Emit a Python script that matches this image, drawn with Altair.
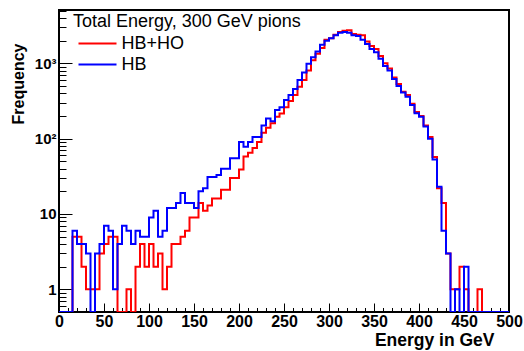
import altair as alt
import pandas as pd

# ---- data (bin lower edges in GeV, 5 GeV bins) ----
bin_lo = list(range(0, 500, 5))
hbho = [0, 0, 0, 5, 5, 2, 1, 1, 1, 3,
        4, 5, 5, 0, 0, 1, 0, 2, 4, 2,
        4, 2, 3, 1, 2, 4, 4, 5, 6, 9,
        9, 14, 11, 13, 16, 16, 21, 21, 30, 30,
        39, 58, 65, 75, 90, 120, 140, 160, 195, 215,
        262, 317, 380, 490, 600, 805, 1100, 1340, 1600, 2050,
        2150, 2400, 2600, 2700, 2750, 2450, 2400, 2350, 1950, 1700,
        1550, 1250, 1000, 850, 650, 530, 420, 380, 290, 225,
        200, 150, 105, 57, 22, 14, 3, 1, 1, 2,
        1, 0, 0, 1, 0, 0, 0, 0, 0, 0]
hb = [0, 0, 0, 6, 4, 4, 3, 0, 3, 4,
      7, 6, 1, 4, 7, 6, 4, 6, 5, 5,
      9, 11, 5, 6, 12, 12, 14, 19, 14, 14,
      12, 20, 22, 31, 31, 33, 40, 40, 55, 55,
      90, 78, 90, 105, 105, 150, 185, 170, 240, 262,
      325, 380, 455, 600, 755, 985, 1200, 1430, 1770, 2000,
      2150, 2350, 2550, 2600, 2550, 2350, 2300, 2050, 1800, 1550,
      1400, 1150, 920, 800, 620, 500, 410, 360, 280, 218,
      195, 145, 100, 53, 23, 6, 3, 0, 1, 0,
      2, 0, 0, 0, 0, 0, 0, 0, 0, 0]
series_names = ["HB+HO", "HB"]
series_colors = ["#ff0000", "#0000ff"]
x_major = list(range(0, 501, 50))
x_minor = [v for v in range(0, 501, 10) if v % 50 != 0]
y_major = [1, 10, 100, 1000]
y_minor = [0.6, 0.7, 0.8, 0.9, 2, 3, 4, 5, 6, 7, 8, 9,
           20, 30, 40, 50, 60, 70, 80, 90,
           200, 300, 400, 500, 600, 700, 800, 900,
           2000, 3000, 4000, 5000]

rows = []
for name, vals in zip(series_names, [hbho, hb]):
    for e, v in zip(bin_lo, vals):
        rows.append({"E": e, "count": v, "series": name})
    rows.append({"E": 500, "count": vals[-1], "series": name})
df = pd.DataFrame(rows)

FONT = "Liberation Sans"
xs = alt.Scale(domain=[0, 500], nice=False, zero=False)
ys = alt.Scale(type="log", domain=[0.5, 5100], nice=False)
cs = alt.Scale(domain=series_names, range=series_colors)

base = alt.Chart(df).transform_calculate(yv="max(datum.count, 0.5)")

x_lab_axis = alt.Axis(orient="bottom", values=x_major, ticks=False, tickSize=0, domain=False,
                      grid=False, labelFont=FONT, labelFontWeight="bold", labelFontSize=16,
                      labelColor="black", labelPadding=1, labelFlush=False,
                      title="Energy in GeV", titleFont=FONT, titleFontWeight="bold",
                      titleFontSize=17.5, titleColor="black", titleX=435, titleY=33,
                      titleAlign="right", titleBaseline="alphabetic")
y_lab_axis = alt.Axis(orient="left", values=y_major, ticks=False, tickSize=0, domain=False,
                      grid=False, labelFlush=False,
                      labelExpr="datum.value == 1000 ? '10³' : datum.value == 100 ? '10²' : datum.label",
                      labelFont=FONT, labelFontWeight="bold", labelFontSize=15,
                      labelColor="black", labelPadding=3,
                      title="Frequency", titleFont=FONT, titleFontWeight="bold",
                      titleFontSize=16, titleColor="black", titleAngle=270,
                      titleX=-36, titleY=33, titleAlign="right", titleBaseline="alphabetic")

legend = alt.Legend(orient="none", legendX=14, legendY=3,
                    title="Total Energy, 300 GeV pions", titleFont=FONT,
                    titleFontSize=18, titleFontWeight="normal", titleColor="black",
                    titleLimit=400, titlePadding=2, titleBaseline="top",
                    labelFont=FONT, labelFontSize=18, labelColor="black",
                    symbolType="M-2,0H2", symbolStrokeWidth=2, symbolSize=361,
                    symbolOffset=14, labelOffset=13.5, rowPadding=1, padding=0)

red = base.transform_filter(alt.datum.series == "HB+HO").mark_line(
    interpolate="step-after", strokeWidth=2, clip=True).encode(
    x=alt.X("E:Q", scale=xs, axis=x_lab_axis),
    y=alt.Y("yv:Q", scale=ys, axis=y_lab_axis),
    color=alt.Color("series:N", scale=cs, legend=legend))

blue = base.transform_filter(alt.datum.series == "HB").mark_line(
    interpolate="step-after", strokeWidth=2, clip=True).encode(
    x=alt.X("E:Q", scale=xs, axis=None),
    y=alt.Y("yv:Q", scale=ys, axis=None),
    color=alt.Color("series:N", scale=cs, legend=legend))

major = base.mark_line(opacity=0).encode(
    x=alt.X("E:Q", scale=xs, axis=alt.Axis(orient="bottom", values=x_major, tickSize=9,
            offset=-9, labels=False, domain=False, grid=False, tickColor="black",
            title=None)),
    y=alt.Y("yv:Q", scale=ys, axis=alt.Axis(orient="left", values=y_major, tickSize=13,
            offset=-13, labels=False, domain=False, grid=False, tickColor="black",
            title=None)),
    detail="series:N")

minor = base.mark_line(opacity=0).encode(
    x=alt.X("E:Q", scale=xs, axis=alt.Axis(orient="bottom", values=x_minor, tickSize=4.5,
            offset=-4.5, labels=False, domain=False, grid=False, tickColor="black",
            title=None)),
    y=alt.Y("yv:Q", scale=ys, axis=alt.Axis(orient="left", values=y_minor, tickSize=7,
            offset=-7, labels=False, domain=False, grid=False, tickColor="black",
            title=None)),
    detail="series:N")

chart = alt.layer(red, blue, major, minor).resolve_axis(
    x="independent", y="independent").properties(
    width=450, height=302,
    autosize=alt.AutoSizeParams(type="none"),
    padding={"left": 59, "top": 10, "right": 15, "bottom": 39},
    background="white",
).configure_view(stroke="black", strokeWidth=2)

chart.save("out.html", embed_options={"renderer": "svg", "actions": False})
